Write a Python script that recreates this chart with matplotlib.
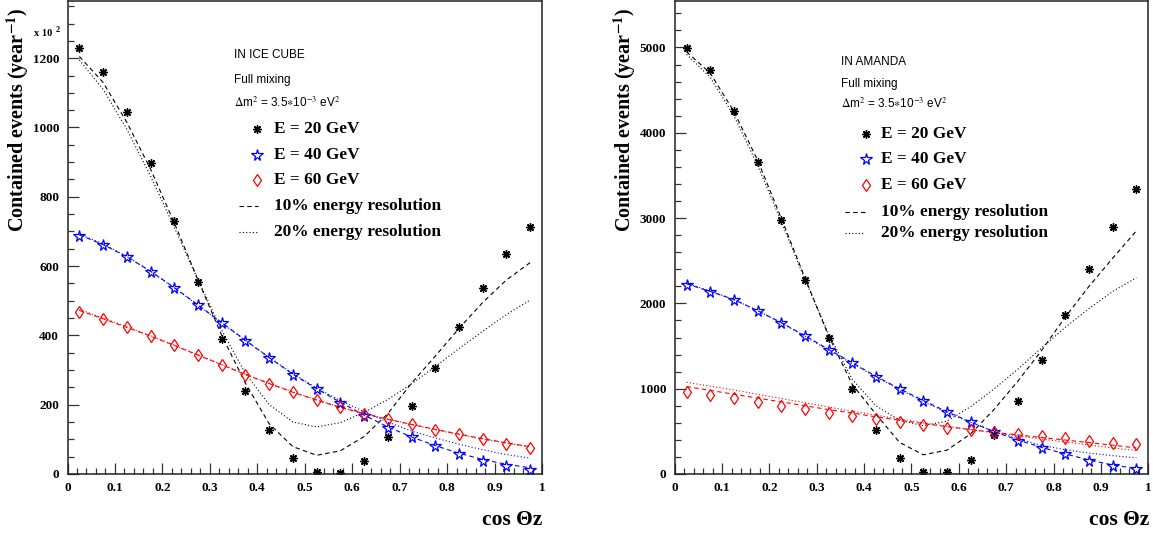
import matplotlib.pyplot as plt
import numpy as np
from matplotlib.lines import Line2D
from matplotlib.ticker import MultipleLocator, FuncFormatter

plt.rcParams['font.family'] = ['Liberation Serif', 'DejaVu Serif']
plt.rcParams['mathtext.fontset'] = 'stix'

cos_z = np.arange(0.025, 1.0, 0.05)

# IceCube
ic_e20 = [1228, 1160, 1044, 897, 730, 554, 389, 240, 127, 45, 6, 4, 38, 106, 197, 306, 424, 536, 635, 712]
ic_e20_10 = [1205, 1130, 1015, 880, 725, 560, 400, 262, 145, 79, 54, 67, 108, 174, 262, 340, 420, 495, 560, 610]
ic_e20_20 = [1195, 1110, 995, 860, 712, 560, 415, 290, 200, 150, 136, 148, 178, 215, 260, 310, 362, 412, 460, 502]
ic_e40 = [686, 660, 626, 583, 537, 487, 436, 384, 335, 286, 244, 206, 167, 134, 106, 81, 58, 38, 23, 12]
ic_e40_10 = [690, 662, 627, 585, 538, 488, 437, 386, 336, 288, 246, 207, 170, 136, 107, 82, 60, 42, 28, 18]
ic_e40_20 = [692, 664, 628, 585, 537, 487, 436, 385, 336, 290, 248, 212, 180, 150, 124, 104, 86, 70, 56, 46]
ic_e60 = [467, 447, 424, 398, 372, 343, 314, 286, 260, 236, 213, 192, 173, 158, 143, 128, 114, 100, 87, 76]
ic_e60_10 = [472, 448, 423, 398, 371, 343, 315, 287, 261, 236, 213, 192, 174, 158, 143, 129, 115, 102, 90, 79]
ic_e60_20 = [475, 450, 425, 399, 372, 344, 316, 288, 262, 237, 214, 193, 175, 158, 143, 128, 114, 101, 89, 78]

# AMANDA
am_e20 = [4994, 4735, 4255, 3658, 2978, 2274, 1594, 1000, 516, 184, 20, 20, 164, 457, 856, 1336, 1864, 2403, 2896, 3341]
am_e20_10 = [4950, 4700, 4250, 3680, 3000, 2300, 1620, 1050, 700, 370, 225, 280, 470, 760, 1090, 1450, 1840, 2200, 2530, 2850]
am_e20_20 = [4920, 4650, 4200, 3620, 2960, 2280, 1640, 1110, 800, 630, 566, 620, 790, 1000, 1230, 1480, 1720, 1940, 2140, 2300]
am_e40 = [2216, 2134, 2040, 1911, 1770, 1618, 1454, 1301, 1137, 996, 856, 723, 606, 489, 391, 309, 231, 156, 94, 55]
am_e40_10 = [2230, 2140, 2045, 1915, 1775, 1622, 1460, 1305, 1145, 1000, 862, 730, 610, 495, 398, 312, 235, 165, 105, 65]
am_e40_20 = [2235, 2145, 2045, 1915, 1770, 1615, 1450, 1295, 1140, 990, 850, 720, 605, 500, 410, 335, 285, 245, 215, 190]
am_e60 = [958, 922, 887, 844, 801, 762, 719, 684, 645, 606, 571, 543, 516, 489, 465, 445, 418, 390, 367, 352]
am_e60_10 = [1025, 980, 935, 890, 845, 800, 755, 715, 670, 630, 592, 555, 520, 488, 458, 428, 398, 368, 338, 305]
am_e60_20 = [1075, 1030, 985, 935, 885, 835, 785, 737, 690, 645, 600, 560, 520, 482, 446, 410, 375, 340, 305, 275]

W, H = 1153, 535
fig = plt.figure(figsize=(W / 100, H / 100), dpi=100)


def fx(x):
    return x / W


def fy(y):
    return 1 - y / H


dash = (0, (4, 3))
dot = (0, (1, 2))
star_kw = dict(ls='none', marker=(8, 2, 0), ms=6, mew=1.0, color='black')
open_star_kw = dict(ls='none', marker='*', ms=8.5, mew=0.9, mfc='none', mec='blue')
diam_kw = dict(ls='none', marker='d', ms=6, mew=0.9, mfc='none', mec='red')


def panel(ax, e20, e20a, e20b, e40, e40a, e40b, e60, e60a, e60b, ymax, major, minor):
    ax.plot(cos_z, e20a, color='black', lw=0.8, ls=dash)
    ax.plot(cos_z, e20b, color='black', lw=0.8, ls=dot)
    ax.plot(cos_z, e40a, color='blue', lw=0.8, ls=dash)
    ax.plot(cos_z, e40b, color='blue', lw=0.8, ls=dot)
    ax.plot(cos_z, e60a, color='red', lw=0.8, ls=dash)
    ax.plot(cos_z, e60b, color='red', lw=0.8, ls=dot)
    ax.plot(cos_z, e20, **star_kw)
    ax.plot(cos_z, e40, **open_star_kw)
    ax.plot(cos_z, e60, **diam_kw)
    ax.set_xlim(0, 1)
    ax.set_ylim(0, ymax)
    ax.xaxis.set_major_locator(MultipleLocator(0.1))
    ax.xaxis.set_minor_locator(MultipleLocator(0.02))
    ax.yaxis.set_major_locator(MultipleLocator(major))
    ax.yaxis.set_minor_locator(MultipleLocator(minor))
    ax.xaxis.set_major_formatter(FuncFormatter(lambda v, p: '%g' % round(v, 2)))
    ax.tick_params(which='both', direction='in', top=False, right=False,
                   labelsize=9.5, width=0.9, color='#333333')
    ax.tick_params(which='major', length=8, pad=6)
    ax.tick_params(which='minor', length=4)
    for lab in ax.get_xticklabels() + ax.get_yticklabels():
        lab.set_fontweight('bold')
    for s in ax.spines.values():
        s.set_linewidth(1.1)
        s.set_color('#222222')


ax1 = fig.add_axes([fx(67.5), fy(474), fx(474.5), 473 / H])
panel(ax1, ic_e20, ic_e20_10, ic_e20_20, ic_e40, ic_e40_10, ic_e40_20,
      ic_e60, ic_e60_10, ic_e60_20, 1365, 200, 50)
ax2 = fig.add_axes([fx(674.7), fy(474), fx(473.5), 473 / H])
panel(ax2, am_e20, am_e20_10, am_e20_20, am_e40, am_e40_10, am_e40_20,
      am_e60, am_e60_10, am_e60_20, 5545, 1000, 200)

ylab = 'Contained events (year$^{\\mathbf{-1}}$)'
for xc in (18, 625):
    fig.text(fx(xc), fy(120), ylab, rotation=90, ha='center', va='center',
             fontsize=14.5, fontweight='bold')
for xc in (512, 1119):
    fig.text(fx(xc), fy(520), 'cos \u0398z', ha='center', va='center',
             fontsize=15.5, fontweight='bold')

fig.text(fx(34), fy(33), 'x 10', fontsize=7.5, fontweight='bold', va='center')
fig.text(fx(56), fy(30), '2', fontsize=6, fontweight='bold', va='center')

sans = ['Liberation Sans', 'DejaVu Sans']


def header(x0, ys, name):
    fig.text(fx(x0), fy(ys[0]), name, family=sans, fontsize=8.5, va='center')
    fig.text(fx(x0), fy(ys[1]), 'Full mixing', family=sans, fontsize=8.5, va='center')
    fig.text(fx(x0), fy(ys[2]), '$\\Delta$m$^{2}$ = 3.5$\\ast$10$^{-3}$ eV$^{2}$',
             family=sans, fontsize=8.5, va='center')


def keys(xm, xl0, xl1, xt, ys):
    labels = ['E = 20 GeV', 'E = 40 GeV', 'E = 60 GeV',
              '10% energy resolution', '20% energy resolution']
    fig.add_artist(Line2D([fx(xm)], [fy(ys[0])], **star_kw))
    fig.add_artist(Line2D([fx(xm)], [fy(ys[1])], **open_star_kw))
    fig.add_artist(Line2D([fx(xm)], [fy(ys[2])], **diam_kw))
    fig.add_artist(Line2D([fx(xl0), fx(xl1)], [fy(ys[3])] * 2, color='black', lw=0.8, ls=dash))
    fig.add_artist(Line2D([fx(xl0), fx(xl1)], [fy(ys[4])] * 2, color='black', lw=0.8, ls=dot))
    for lab, y in zip(labels, ys):
        fig.text(fx(xt), fy(y), lab, fontsize=12.4, fontweight='bold', va='center')


header(234, (55, 80, 103), 'IN ICE CUBE')
keys(257, 239, 258, 274, (129, 155, 180, 206, 232))
header(841, (62, 84, 104), 'IN AMANDA')
keys(866, 845, 865, 881, (134, 159, 185, 212, 233))

fig.savefig('out.png', dpi=100)
